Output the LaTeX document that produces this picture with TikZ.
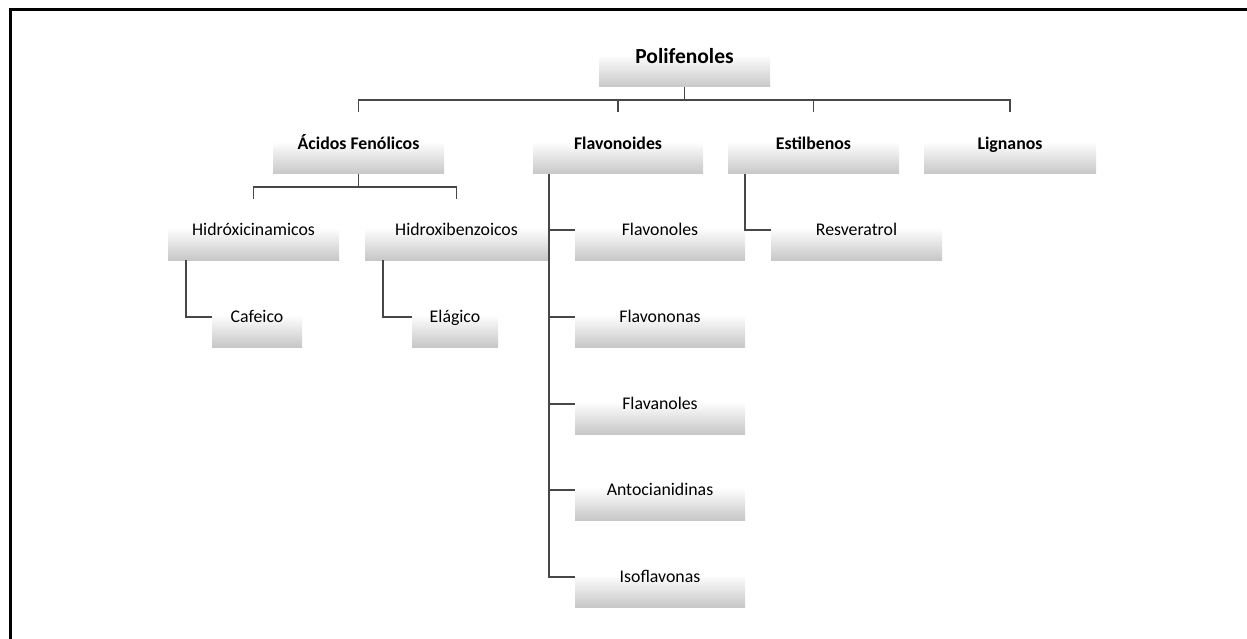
\documentclass[tikz,border=0pt]{standalone}
\usepackage{fontspec}
\setmainfont{Carlito}
\pgfdeclareverticalshading{boxshade}{100bp}{color(0bp)=(black!22); color(25bp)=(black!22); color(52bp)=(white); color(100bp)=(white)}
\tikzset{
  box/.style={shading=boxshade, minimum height=60pt, inner sep=0pt, text=black,
    text height=12pt, text depth=1pt,
    font=\fontsize{17.8}{20}\selectfont},
  boldbox/.style={box, font=\fontsize{17.8}{20}\selectfont\bfseries},
  rootbox/.style={box, text height=14pt, text depth=1pt, font=\fontsize{21.5}{24}\selectfont\bfseries},
  conn/.style={draw=black!72, line width=1.4pt},
  frame/.style={draw=black, line width=3pt}
}
\begin{document}
\begin{tikzpicture}[x=1pt,y=-1pt]
\useasboundingbox (0,0) rectangle (1247,639);
\draw[frame] (1247,10) -- (10,10) -- (10,639);
% nodes
\node[rootbox, minimum width=171pt] (root) at (684.5,57) {Polifenoles};
\node[boldbox, minimum width=171pt] (acidos) at (358.5,144) {Ácidos Fenólicos};
\node[boldbox, minimum width=170pt] (flavon) at (618,144) {Flavonoides};
\node[boldbox, minimum width=171pt] (estil) at (813.5,144) {Estilbenos};
\node[boldbox, minimum width=172pt] (lign) at (1010,144) {Lignanos};
\node[box, minimum width=171pt] (hidc) at (253.5,230) {Hidróxicinamicos};
\node[box, minimum width=183pt] (hidb) at (456.5,230) {Hidroxibenzoicos};
\node[box, minimum width=90pt] (cafe) at (257,317) {Cafeico};
\node[box, minimum width=86pt] (elag) at (455,317) {Elágico};
\node[box, minimum width=170pt] (fl1) at (660,230) {Flavonoles};
\node[box, minimum width=170pt] (fl2) at (660,317) {Flavononas};
\node[box, minimum width=170pt] (fl3) at (660,404) {Flavanoles};
\node[box, minimum width=170pt] (fl4) at (660,490) {Antocianidinas};
\node[box, minimum width=170pt] (fl5) at (660,577) {Isoflavonas};
\node[box, minimum width=171pt] (resv) at (856.5,230) {Resveratrol};
% connectors level 1
\draw[conn] (root.south) -- ++(0,13) coordinate (b1);
\draw[conn] ([yshift=2pt]acidos.north) -- (acidos.north |- b1) -- (lign.north |- b1) -- ([yshift=2pt]lign.north);
\draw[conn] (flavon.north |- b1) -- ([yshift=2pt]flavon.north);
\draw[conn] (estil.north |- b1) -- ([yshift=2pt]estil.north);
% acidos
\draw[conn] (acidos.south) -- ++(0,13) coordinate (b2);
\draw[conn] ([yshift=1pt]hidc.north) -- (hidc.north |- b2) -- (hidb.north |- b2) -- ([yshift=1pt]hidb.north);
\draw[conn] ([xshift=-67.5pt]hidc.south) |- (cafe.west);
\draw[conn] ([xshift=-73.5pt]hidb.south) |- (elag.west);
% flavonoides
\coordinate (fv) at ([xshift=-69pt]flavon.south);
\draw[conn] (fv) |- (fl5.west);
\foreach \n in {fl1,fl2,fl3,fl4} \draw[conn] (fv |- \n.west) -- (\n.west);
% estilbenos
\draw[conn] ([xshift=-68.5pt]estil.south) |- (resv.west);
\end{tikzpicture}
\end{document}
